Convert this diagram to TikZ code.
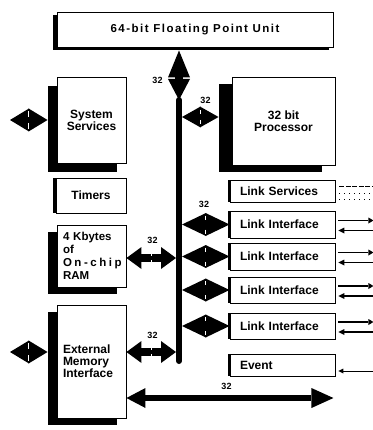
\documentclass[tikz,border=0pt]{standalone}
\usepackage{fontspec}
\setmainfont{Liberation Sans}
\usetikzlibrary{arrows.meta,calc,shadows}

\tikzset{
  blk/.style={draw, line width=0.9pt, fill=white, inner sep=0pt},
  shade/.style 2 args={general shadow={shadow xshift=#1, shadow yshift=#2, fill=black}},
  linkbox/.style={blk, shade={-2.5pt}{0pt}, minimum width=105pt, text width=85pt, align=left},
  fat/.style n args={4}{line width=#1,
    {Triangle[width=#2,length=#3,line width=0pt]}-{Triangle[width=#2,length=#4,line width=0pt]}},
  notchw/.style={draw=white, line width=0.9pt},
  sigout/.style={line width=1.6pt, -{Triangle[width=6pt,length=5pt,line width=0pt]}},
  sigin/.style={line width=1.6pt, {Triangle[width=6pt,length=6pt,line width=0pt]}-},
  buslabel/.style={font=\bfseries\fontsize{9}{9}\selectfont, inner sep=0pt},
}

\begin{document}
\begin{tikzpicture}[x=1pt, y=-1pt, font=\bfseries\fontsize{12}{12}\selectfont]
\useasboundingbox (0,0) rectangle (372,430);

% ---- functional blocks ----
\node[blk, shade={-4pt}{-3pt}, minimum width=276pt, minimum height=35pt,
      font=\bfseries\fontsize{11.5}{12}\selectfont\addfontfeature{LetterSpace=13}]
      (fpu) at (195,29.5) {64-bit Floating Point Unit};
\node[blk, shade={-9pt}{-9pt}, minimum width=69pt, minimum height=86pt, align=center]
      (ss) at (91.5,120) {System\\Services};
\node[blk, shade={-13pt}{-7pt}, minimum width=103pt, minimum height=88pt, align=center]
      (cpu) at (283.5,121) {32 bit\\Processor};
\node[blk, shade={-3pt}{0pt}, minimum width=70pt, minimum height=35pt]
      (tim) at (91,195.5) {Timers};
\node[blk, shade={-9pt}{-7pt}, minimum width=69pt, minimum height=62pt,
      text width=57pt, align=left, font=\bfseries\fontsize{11.5}{13}\selectfont]
      (ram) at (91.5,256) {4 Kbytes\\of\\{\addfontfeature{LetterSpace=22}On-chip}\\RAM};
\node[blk, shade={-9pt}{-7pt}, minimum width=69pt, minimum height=113pt,
      text width=57pt, align=left]
      (emi) at (91.5,361.5) {External\\Memory\\Interface};

\node[linkbox, minimum height=22pt] (ls)  at (282.5,191)   {Link Services};
\node[linkbox, minimum height=27pt] (li1) at (282.5,224.5) {Link Interface};
\node[linkbox, minimum height=27pt] (li2) at (282.5,256.5) {Link Interface};
\node[linkbox, minimum height=26pt] (li3) at (282.5,290)   {Link Interface};
\node[linkbox, minimum height=26pt] (li4) at (282.5,326)   {Link Interface};
\node[linkbox, minimum height=22pt] (ev)  at (282.5,365)   {Event};

% ---- internal bus ----
\coordinate (bt) at (179,100);
\coordinate (bb) at (179,361);
\draw[line width=6pt, line cap=round] (bt) -- (bb);

% FPU to bus
\coordinate (fa) at ($(fpu.south -| bt)+(0,3)$);
\draw[fat={8pt}{22pt}{27pt}{21pt}] (fa) -- (bt);
\node[buslabel] (lf) at (157.5,80) {32};

% processor to bus
\coordinate (pa) at ($(bt |- cpu.west)+(3,-4)$);
\coordinate (pb) at ($(cpu.west)+(-13,-4)$);
\draw[fat={0.1pt}{21pt}{18.7pt}{18.7pt}] (pa) -- (pb);
\draw[notchw] ($(pa)!.5!(pb)$) ++(0,-7) -- ++(0,4) ++(0,6) -- ++(0,4);
\node[buslabel] (lp) at (205.5,100) {32};

% system services to the outside
\coordinate (sx) at (10,120);
\coordinate (sb) at ($(ss.west)+(-9,0)$);
\draw[fat={0.1pt}{23pt}{19pt}{19pt}] (sx) -- (sb);
\draw[notchw] ($(sx)!.5!(sb)$) ++(0,-9) -- ++(0,6) ++(0,6) -- ++(0,6);

% RAM to bus
\coordinate (ra) at ($(ram.east)+(0,2)$);
\coordinate (rb) at ($(bt |- ram.east)+(-3,2)$);
\draw[fat={8pt}{22pt}{15pt}{15pt}] (ra) -- (rb);
\draw[notchw] ($(ra)!.5!(rb)$) ++(0,-5) -- ++(0,3) ++(0,4) -- ++(0,3);
\node[buslabel] (lr) at (152.5,240) {32};

% external memory interface
\coordinate (ea) at ($(emi.east)+(0,-9.5)$);
\coordinate (eb) at ($(bt |- emi.east)+(-3,-9.5)$);
\draw[fat={8pt}{22pt}{15pt}{15pt}] (ea) -- (eb);
\draw[notchw] ($(ea)!.5!(eb)$) ++(0,-5) -- ++(0,3) ++(0,4) -- ++(0,3);
\node[buslabel] (le) at (152.5,335) {32};

\coordinate (ex) at (10,352);
\coordinate (ew) at ($(emi.west)+(-9,-9.5)$);
\draw[fat={0.1pt}{23pt}{19pt}{19pt}] (ex) -- (ew);
\draw[notchw] ($(ex)!.5!(ew)$) ++(0,-9) -- ++(0,6) ++(0,6) -- ++(0,6);

% external memory bus
\coordinate (ma) at ($(emi.east)+(0,36.5)$);
\coordinate (mb) at ($(cpu.east |- emi.east)+(-2,36.5)$);
\draw[fat={6pt}{20pt}{19pt}{22pt}] (ma) -- (mb);
\node[buslabel] (lm) at (226.5,386.5) {32};

% link interfaces to bus
\foreach \l in {li1,li2,li3,li4}{
  \coordinate (\l a) at ($(bt |- \l.west)+(3,0)$);
  \draw[fat={0.1pt}{23pt}{24pt}{24pt}] (\l a) -- (\l.west);
  \draw[notchw] ($(\l a)!.5!(\l.west)$) ++(0,-9) -- ++(0,4) ++(0,10) -- ++(0,4);
  % serial link wires
  \draw[sigout] ($(\l.east)+(3,-4)$) -- ++(35,0);
  \draw[sigin]  ($(\l.east)+(3,6)$) -- ++(35,0);
}
\node[buslabel] (ll) at (204,204) {32};

% link services and event lines
\draw[line width=1pt, dash pattern=on 5pt off 1.5pt] ($(ls.east)+(4,-4)$) -- ++(34,0);
\draw[line width=1pt, dash pattern=on 1pt off 4pt] ($(ls.east)+(4,2)$) -- ++(34,0);
\draw[line width=1pt, dash pattern=on 1pt off 4pt] ($(ls.east)+(4,8)$) -- ++(34,0);
\draw[line width=1pt, {Triangle[width=5pt,length=5pt,line width=0pt]}-] ($(ev.east)+(3,6)$) -- ++(35,0);
\end{tikzpicture}
\end{document}
